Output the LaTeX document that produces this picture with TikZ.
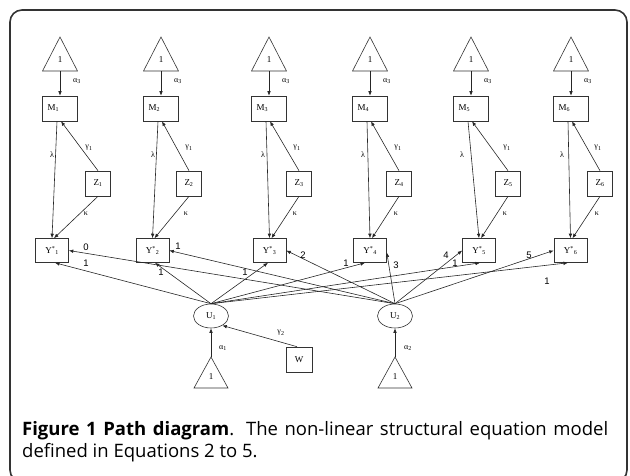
\documentclass[tikz,border=0pt]{standalone}
\usepackage{fontspec}
\setmainfont{Liberation Serif}
\newfontfamily\numfont{Liberation Sans}
\newfontfamily\capfont{Open Sans}
\usetikzlibrary{arrows.meta,shapes.geometric,calc}
\begin{document}
\begin{tikzpicture}[x=1pt,y=-1pt,
  ln/.style={line width=0.6pt, draw=black!85},
  arr/.style={ln, -{Latex[length=4.5pt,width=3.6pt]}},
  mbox/.style={draw=black!80, line width=0.6pt, minimum width=35pt, minimum height=25pt,
     text width=25pt, align=left, inner xsep=5pt, inner ysep=0pt, font=\fontsize{9}{10}\selectfont},
  zbox/.style={draw=black!80, line width=0.6pt, minimum width=25pt, minimum height=25pt,
     inner sep=0pt, font=\fontsize{9}{10}\selectfont},
  ybox/.style={draw=black!80, line width=0.6pt, minimum width=33pt, minimum height=24pt,
     inner sep=0pt, font=\fontsize{9}{10}\selectfont},
  uell/.style={draw=black!80, line width=0.6pt, ellipse, minimum width=35pt, minimum height=24pt,
     inner sep=0pt, font=\fontsize{9}{10}\selectfont},
  tri/.style={draw=black!80, line width=0.6pt},
  one/.style={inner sep=0pt, font=\fontsize{9}{10}\selectfont},
  greek/.style={inner sep=0pt, font=\fontsize{8}{9}\selectfont},
  num/.style={inner sep=0pt, font=\numfont\fontsize{9.5}{10}\selectfont},
]
\useasboundingbox (0,0) rectangle (630,475);
\clip (0,0) rectangle (630,475);
\draw[line width=1.6pt, draw=black!80, rounded corners=12pt] (10,10) rectangle (627,482);

% top triangles and M boxes
\foreach \i/\x in {1/60,2/161,3/269,4/370,5/471,6/571}{
  \draw[tri] (\x,37) -- (\x+17.5,71) -- (\x-17.5,71) -- cycle;
  \node[one] (T\i) at (\x,60) {1};
  \coordinate (TB\i) at (\x,71);
  \node[mbox] (M\i) at (\x,108.5) {M\textsubscript{\i}};
  \draw[arr] (TB\i) -- (M\i.north);
  \node[greek] (A\i) at (\x+17,81) {α\textsubscript{3}};
}
% Z boxes
\foreach \i/\x in {1/98,2/189,3/299,4/399,5/508,6/600}{
  \node[zbox] (Z\i) at (\x,183.5) {Z\textsubscript{\i}};
}
% Y boxes
\foreach \i/\x in {1/52,2/152.5,3/269.5,4/370,5/479,6/570.5}{
  \node[ybox] (Y\i) at (\x,250.5) {Y\textsuperscript{*}\textsubscript{\i}};
}
% lambda, gamma1, kappa paths
\foreach \i in {1,...,6}{
  \draw[arr] ([xshift=-3pt]M\i.south) -- (Y\i.north);
  \draw[arr] (Z\i.north) -- ([xshift=1pt]M\i.south);
  \draw[arr] (Z\i.south) -- ([xshift=2pt]Y\i.north);
}
\foreach \i/\x in {1/52,2/153,3/263,4/363,5/462,6/562}{
  \node[greek] (L\i) at (\x,155) {λ};
}
\foreach \i/\x in {1/89,2/189,3/297,4/398,5/507,6/598}{
  \node[greek] (G\i) at (\x,148) {γ\textsubscript{1}};
}
\foreach \i/\x in {1/86,2/186,3/295,4/396,5/505,6/597}{
  \node[greek] (K\i) at (\x,214) {κ};
}

% U nodes
\node[uell] (U1) at (211,316) {U\textsubscript{1}};
\node[uell] (U2) at (395,316) {U\textsubscript{2}};

% U1 -> Y (bottom)
\draw[arr] (U1.north) -- ([xshift=3pt]Y1.south);
\draw[arr] (U1.north) -- ([xshift=2.5pt]Y2.south);
\draw[arr] (U1.north) -- ([xshift=-1.5pt]Y3.south);
\draw[arr] (U1.north) -- ([xshift=-5pt]Y4.south);
\draw[arr] (U1.north) -- ([xshift=1pt]Y5.south);
\draw[arr] (U1.north) -- ([xshift=-2.5pt]Y6.south);
% U2 -> Y
\draw[arr] (U2.north) -- (Y1.east);
\draw[arr] (U2.north) -- (Y2.east);
\draw[arr] (U2.north) -- (Y3.east);
\draw[arr] (U2.north) -- ([yshift=-2pt]Y4.east);
\draw[arr] (U2.north) -- (Y5.west);
\draw[arr] (U2.north) -- (Y6.west);

% path labels
\node[num] (n01) at (86,247) {0};
\node[num] (n11) at (86,263) {1};
\node[num] (n02) at (178,246) {1};
\node[num] (n12) at (161,272) {1};
\node[num] (n03) at (303,255) {2};
\node[num] (n13) at (245,272) {1};
\node[num] (n14) at (346,263) {1};
\node[num] (n04) at (396,265) {3};
\node[num] (n05) at (446,255) {4};
\node[num] (n15) at (455,263) {1};
\node[num] (n06) at (529,255) {5};
\node[num] (n16) at (547,281) {1};

% bottom triangles
\draw[tri] (211,357) -- (228,388) -- (194,388) -- cycle;
\node[one] (BT1) at (211,377) {1};
\coordinate (BA1) at (211,357);
\draw[arr] (BA1) -- (U1.south);
\node[greek] (a1) at (223,348) {α\textsubscript{1}};

\draw[tri] (395,357) -- (412,388) -- (378,388) -- cycle;
\node[one] (BT2) at (395,377) {1};
\coordinate (BA2) at (395,357);
\draw[arr] (BA2) -- (U2.south);
\node[greek] (a2) at (408,348) {α\textsubscript{2}};

% W
\node[zbox, minimum width=26pt] (W) at (299,359.5) {W};
\draw[arr] ([xshift=-2pt]W.north) -- (U1.-40);
\node[greek] (g2) at (281,333) {γ\textsubscript{2}};

% caption
\node[anchor=base west, inner sep=0pt, text width=586pt, align=justify,
      font=\capfont\fontsize{18.5}{22.5}\selectfont] (cap) at (22,435)
  {\textbf{Figure 1 Path diagram}. The non-linear structural equation model\linebreak defined in Equations 2 to 5.};
\end{tikzpicture}
\end{document}
